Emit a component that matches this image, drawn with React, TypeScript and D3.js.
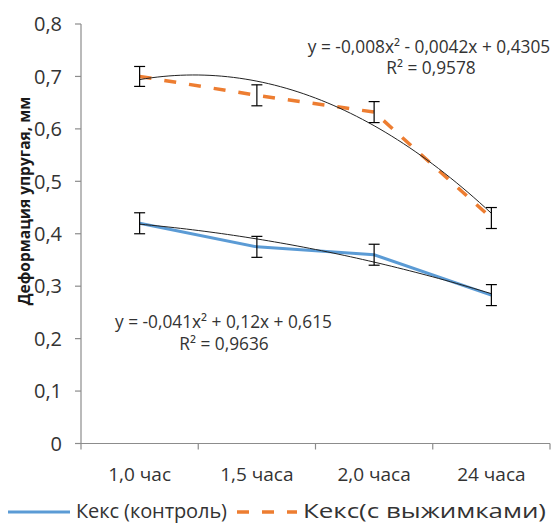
import React from "react";
import * as d3 from "d3";

const categories = ["1,0 час", "1,5 часа", "2,0 часа", "24 часа"];
const controlValues = [0.42, 0.375, 0.36, 0.283];
const pomaceValues = [0.7, 0.664, 0.632, 0.43];
const controlErrors = [0.02, 0.02, 0.02, 0.02];
const pomaceErrors = [0.019, 0.02, 0.02, 0.02];
const yTicks = [0, 0.1, 0.2, 0.3, 0.4, 0.5, 0.6, 0.7, 0.8];
// trendline coefficients [a, b, c] for a*x^2 + b*x + c, x = 1..4
const controlTrend = [-0.008, -0.0042, 0.4305];
const pomaceTrend = [-0.041, 0.12, 0.615];
const eqTop = ["y = -0,008x² - 0,0042x + 0,4305", "R² = 0,9578"];
const eqBottom = ["y = -0,041x² + 0,12x + 0,615", "R² = 0,9636"];
const seriesNames = ["Кекс (контроль)", "Кекс(с выжимками)"];
const yTitle = "Деформация упругая, мм";

const W = 556;
const H = 526;
const BLUE = "#5B9BD5";
const ORANGE = "#ED7D31";
const AXIS = "#8c8c8c";
const TEXT = "#333333";
const FONT = "'Open Sans', sans-serif";

export default function App() {
  const x = d3.scaleBand<string>().domain(categories).range([81, 550]).padding(0);
  const y = d3.scaleLinear().domain([0, 0.8]).range([443.5, 24]);
  const cx = (i: number) => (x(categories[i]) as number) + x.bandwidth() / 2;
  const tx = (t: number) => cx(0) + (t - 1) * x.bandwidth();

  const line = d3
    .line<number>()
    .x((_, i) => cx(i))
    .y((d) => y(d));

  const trendPts = (c: number[]) =>
    d3.range(1, 4.0001, 0.05).map((t) => [tx(t), y(c[0] * t * t + c[1] * t + c[2])] as [number, number]);
  const trendLine = d3.line<[number, number]>().curve(d3.curveLinear);

  const errBars = (vals: number[], errs: number[], key: string) =>
    vals.map((v, i) => {
      const px = cx(i);
      const y1 = y(v + errs[i]);
      const y2 = y(v - errs[i]);
      return (
        <g key={key + i} stroke="#000" strokeWidth={1.2}>
          <line x1={px} x2={px} y1={y1} y2={y2} />
          <line x1={px - 5.5} x2={px + 5.5} y1={y1} y2={y1} />
          <line x1={px - 5.5} x2={px + 5.5} y1={y2} y2={y2} />
        </g>
      );
    });

  const boundaries = d3.range(categories.length + 1).map((i) => 81 + i * x.bandwidth());

  return (
    <svg
      width={W}
      height={H}
      style={{ position: "absolute", left: 0, top: 0, background: "#fff" }}
      fontFamily={FONT}
    >
      {/* axes */}
      <line x1={81} x2={81} y1={y(0.8)} y2={y(0)} stroke={AXIS} strokeWidth={1.2} />
      {yTicks.map((t) => (
        <g key={"yt" + t}>
          <line x1={75} x2={81} y1={y(t)} y2={y(t)} stroke={AXIS} strokeWidth={1.2} />
          <text x={62} y={y(t)} dy="0.36em" textAnchor="end" fontSize={20} fill={TEXT}>
            {d3.format(".1f")(t).replace(".", ",").replace(/^0,0$/, "0")}
          </text>
        </g>
      ))}
      <line x1={75} x2={550} y1={y(0)} y2={y(0)} stroke={AXIS} strokeWidth={1.2} />
      {boundaries.map((b, i) => (
        <line key={"xt" + i} x1={b} x2={b} y1={y(0)} y2={y(0) + 6} stroke={AXIS} strokeWidth={1.2} />
      ))}
      {categories.map((c, i) => (
        <text key={c} x={cx(i)} y={481} textAnchor="middle" fontSize={19} fill={TEXT}>
          {c}
        </text>
      ))}
      <text
        transform={`translate(30,201) rotate(-90)`}
        textAnchor="middle"
        fontSize={15.5}
        fontWeight="bold"
        fill="#1a1a1a"
      >
        {yTitle}
      </text>

      {/* series */}
      <path d={line(pomaceValues) || ""} fill="none" stroke={ORANGE} strokeWidth={3.5} strokeDasharray="12,13" />
      <path d={line(controlValues) || ""} fill="none" stroke={BLUE} strokeWidth={3} />

      {/* trendlines */}
      <path d={trendLine(trendPts(pomaceTrend)) || ""} fill="none" stroke="#222" strokeWidth={1} />
      <path d={trendLine(trendPts(controlTrend)) || ""} fill="none" stroke="#222" strokeWidth={1} />

      {errBars(pomaceValues, pomaceErrors, "pe")}
      {errBars(controlValues, controlErrors, "ce")}

      {/* equations */}
      <text x={429} y={53} textAnchor="middle" fontSize={17.3} fill={TEXT}>{eqTop[0]}</text>
      <text x={431} y={74} textAnchor="middle" fontSize={17.3} fill={TEXT}>{eqTop[1]}</text>
      <text x={223.5} y={328} textAnchor="middle" fontSize={17.3} fill={TEXT}>{eqBottom[0]}</text>
      <text x={224} y={350} textAnchor="middle" fontSize={17.3} fill={TEXT}>{eqBottom[1]}</text>

      {/* legend */}
      <line x1={8} x2={70} y1={512} y2={512} stroke={BLUE} strokeWidth={3} />
      <text x={76} y={518} fontSize={20} fill={TEXT} textLength={151} lengthAdjust="spacing">
        {seriesNames[0]}
      </text>
      <line x1={237} x2={297} y1={512} y2={512} stroke={ORANGE} strokeWidth={3.5} strokeDasharray="12,13" />
      <text x={303} y={518} fontSize={20} fill={TEXT} textLength={243} lengthAdjust="spacingAndGlyphs">
        {seriesNames[1]}
      </text>
    </svg>
  );
}
